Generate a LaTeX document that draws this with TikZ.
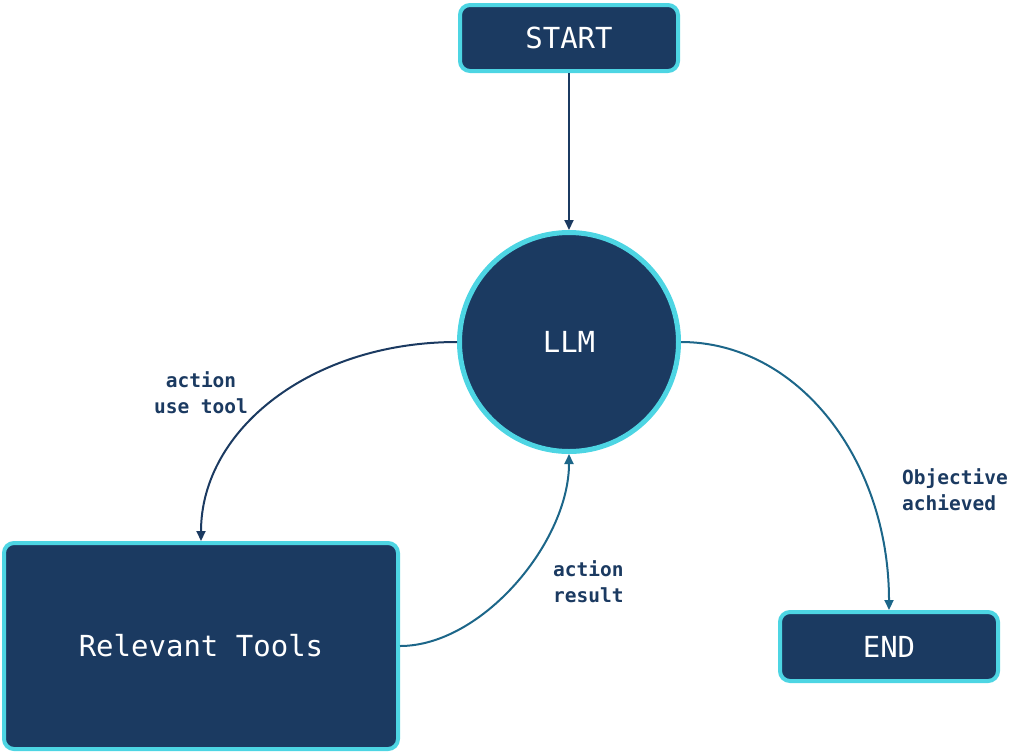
\documentclass[tikz,border=0pt]{standalone}
\usepackage{fontspec}
\setmonofont{DejaVu Sans Mono}
\usetikzlibrary{arrows.meta}
\definecolor{navy}{HTML}{1B3A61}
\definecolor{cyanb}{HTML}{4DD5E3}
\definecolor{tealc}{HTML}{1C6689}
\tikzset{
  box/.style={draw=cyanb, fill=navy, line width=4pt, rounded corners=10pt, text=white, font=\ttfamily\fontsize{29}{34}\selectfont, inner sep=0pt},
  circ/.style={draw=cyanb, fill=navy, line width=5pt, circle, text=white, font=\ttfamily\fontsize{29}{34}\selectfont, inner sep=0pt, minimum size=219pt},
  darr/.style={draw=navy, line width=2pt, -{Triangle[length=10pt,width=9pt]}},
  tarr/.style={draw=tealc, line width=2pt, -{Triangle[length=10pt,width=9pt]}},
  lbl/.style={text=navy, font=\ttfamily\bfseries\fontsize{19.5}{26}\selectfont, inner sep=0pt}
}
\begin{document}
\begin{tikzpicture}[x=1pt,y=-1pt]
\useasboundingbox (0,0) rectangle (1024,753);
\node[box, minimum width=218pt, minimum height=66pt] (start) at (569,38) {START};
\node[circ] (llm) at (569,342) {LLM};
\node[box, minimum width=394pt, minimum height=206pt] (tools) at (201,646) {Relevant Tools};
\node[box, minimum width=218pt, minimum height=69pt] (end) at (889,646.5) {END};
\draw[darr] (start.south) -- (llm.north);
\draw[darr] (llm.west) .. controls +(-145,0) and +(0,-112) .. (tools.north);
\draw[tarr] (tools.east) .. controls +(82,0) and +(0,88) .. (llm.south);
\draw[tarr] (llm.east) .. controls +(117,0) and +(0,-150) .. (end.north);
\node[lbl, align=center] (l1) at (201,393) {action\\use tool};
\node[lbl, align=left, anchor=west] (l2) at (553,582) {action\\result};
\node[lbl, align=left, anchor=west] (l3) at (902,490) {Objective\\achieved};
\end{tikzpicture}
\end{document}
